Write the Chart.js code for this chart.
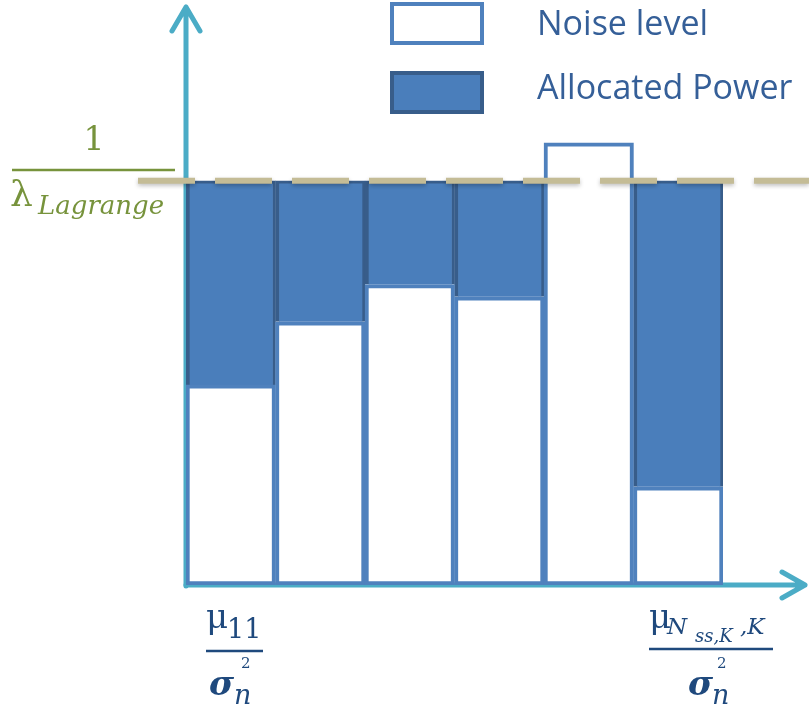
<!DOCTYPE html>
<html>
<head>
<meta charset="utf-8">
<script src="https://cdn.jsdelivr.net/npm/chart.js@4"></script>
<style>
  body { margin: 0; background: #fff; }
  #wrap { width: 809px; height: 711px; }
</style>
</head>
<body>
<div id="wrap"><canvas id="graph" width="809" height="711"></canvas></div>
<script>
// subchannels (only first and last get a label under the axis)
var channels = ["1", "2", "3", "4", "5", "6"];
// noise level per channel, in units of the water level
var noiseLevel = [0.495, 0.651, 0.743, 0.713, 1.094, 0.243];
// allocated power = what fills up to the water level
var allocatedPower = [0.505, 0.349, 0.257, 0.287, 0, 0.757];
var waterLevel = 1;
var yMax = 1.4;

var teal = "#4bacc6";
var navy = "#1f497d";
var olive = "#77933c";

function drawArrows(chart) {
  var ctx = chart.ctx;
  var area = chart.chartArea;
  ctx.save();
  ctx.strokeStyle = teal;
  ctx.lineWidth = 5;
  ctx.lineCap = "round";
  ctx.lineJoin = "round";
  // y axis
  ctx.beginPath();
  ctx.moveTo(area.left, area.bottom + 1);
  ctx.lineTo(area.left, 7);
  ctx.moveTo(area.left - 14, 31);
  ctx.lineTo(area.left, 7);
  ctx.lineTo(area.left + 14, 31);
  ctx.stroke();
  // x axis
  ctx.beginPath();
  ctx.moveTo(area.left, area.bottom);
  ctx.lineTo(805, area.bottom);
  ctx.moveTo(782, area.bottom - 13);
  ctx.lineTo(805, area.bottom);
  ctx.lineTo(782, area.bottom + 13);
  ctx.stroke();
  ctx.restore();
}

function drawWaterLine(chart) {
  var ctx = chart.ctx;
  var y = chart.scales.y.getPixelForValue(waterLevel);
  ctx.save();
  ctx.strokeStyle = "#c4bc96";
  ctx.lineWidth = 6;
  ctx.setLineDash([57, 20]);
  ctx.shadowColor = "rgba(0,0,0,0.25)";
  ctx.shadowBlur = 4;
  ctx.shadowOffsetY = 2;
  ctx.beginPath();
  ctx.moveTo(138, y);
  ctx.lineTo(809, y);
  ctx.stroke();
  ctx.restore();
}

function drawLegend(chart) {
  var ctx = chart.ctx;
  var ds = chart.data.datasets;
  var rows = [{ top: 4, base: 35 }, { top: 73, base: 99 }];
  ctx.save();
  for (var i = 0; i < ds.length; i++) {
    ctx.fillStyle = ds[i].backgroundColor;
    ctx.strokeStyle = ds[i].borderColor;
    ctx.lineWidth = 4;
    ctx.fillRect(392, rows[i].top, 90, 39);
    ctx.strokeRect(392, rows[i].top, 90, 39);
    ctx.fillStyle = "#355f98";
    ctx.font = "34px 'Open Sans'";
    ctx.textBaseline = "alphabetic";
    ctx.fillText(ds[i].label, 537, rows[i].base);
  }
  ctx.restore();
}

function drawMath(chart) {
  var ctx = chart.ctx;
  ctx.save();
  ctx.textBaseline = "alphabetic";

  // 1 / lambda_Lagrange
  ctx.fillStyle = olive;
  ctx.strokeStyle = olive;
  ctx.lineWidth = 2.5;
  ctx.font = "33px 'DejaVu Serif'";
  ctx.textAlign = "center";
  ctx.fillText("1", 94, 150);
  ctx.beginPath();
  ctx.moveTo(12, 170);
  ctx.lineTo(175, 170);
  ctx.stroke();
  ctx.textAlign = "left";
  ctx.font = "36px 'DejaVu Serif'";
  ctx.fillText("λ", 10, 206);
  ctx.font = "italic 26px 'DejaVu Serif'";
  ctx.fillText("Lagrange", 38, 214);

  // mu_11 / sigma_n^2
  ctx.fillStyle = navy;
  ctx.strokeStyle = navy;
  ctx.font = "34px 'DejaVu Serif'";
  ctx.fillText("μ", 206, 628);
  ctx.font = "27px 'DejaVu Serif'";
  ctx.fillText("11", 227, 638);
  ctx.beginPath();
  ctx.moveTo(206, 651);
  ctx.lineTo(263, 651);
  ctx.stroke();
  ctx.font = "15px 'DejaVu Serif'";
  ctx.fillText("2", 241, 668);
  ctx.font = "bold italic 34px 'DejaVu Serif'";
  ctx.fillText("σ", 209, 695);
  ctx.font = "italic 27px 'DejaVu Serif'";
  ctx.fillText("n", 234, 704);

  // mu_{N_ss,K, K} / sigma_n^2
  ctx.font = "34px 'DejaVu Serif'";
  ctx.fillText("μ", 649, 628);
  ctx.font = "italic 23px 'DejaVu Serif'";
  ctx.fillText("N", 667, 634);
  ctx.font = "italic 18px 'DejaVu Serif'";
  ctx.fillText("ss,K", 695, 642);
  ctx.font = "italic 23px 'DejaVu Serif'";
  ctx.fillText(",K", 740, 634);
  ctx.beginPath();
  ctx.moveTo(649, 649);
  ctx.lineTo(773, 649);
  ctx.stroke();
  ctx.font = "15px 'DejaVu Serif'";
  ctx.fillText("2", 717, 668);
  ctx.font = "bold italic 34px 'DejaVu Serif'";
  ctx.fillText("σ", 688, 695);
  ctx.font = "italic 27px 'DejaVu Serif'";
  ctx.fillText("n", 712, 704);
  ctx.restore();
}

var overlay = {
  id: "overlay",
  beforeDatasetsDraw: function (chart) {
    drawArrows(chart);
  },
  afterDatasetsDraw: function (chart) {
    drawWaterLine(chart);
    drawLegend(chart);
    drawMath(chart);
  },
};

var ctx = document.getElementById("graph").getContext("2d");
var chart = new Chart(ctx, {
  type: "bar",
  data: {
    labels: channels,
    datasets: [
      {
        label: "Noise level",
        data: noiseLevel,
        backgroundColor: "#ffffff",
        borderColor: "#4f81bd",
        borderWidth: 4,
        borderSkipped: false,
        categoryPercentage: 1,
        barPercentage: 1,
      },
      {
        label: "Allocated Power",
        data: allocatedPower,
        backgroundColor: "#4a7ebb",
        borderColor: "#385d8a",
        borderWidth: { left: 4, right: 3, top: 3, bottom: 0 },
        borderSkipped: false,
        categoryPercentage: 1,
        barPercentage: 1,
      },
    ],
  },
  options: {
    responsive: false,
    animation: false,
    layout: {
      padding: { left: 186, right: 86, top: 19, bottom: 126 },
    },
    scales: {
      x: { stacked: true, display: false },
      y: { stacked: true, display: false, min: 0, max: yMax },
    },
    plugins: {
      legend: { display: false },
      tooltip: { enabled: false },
    },
  },
  plugins: [overlay],
});
</script>
</body>
</html>
